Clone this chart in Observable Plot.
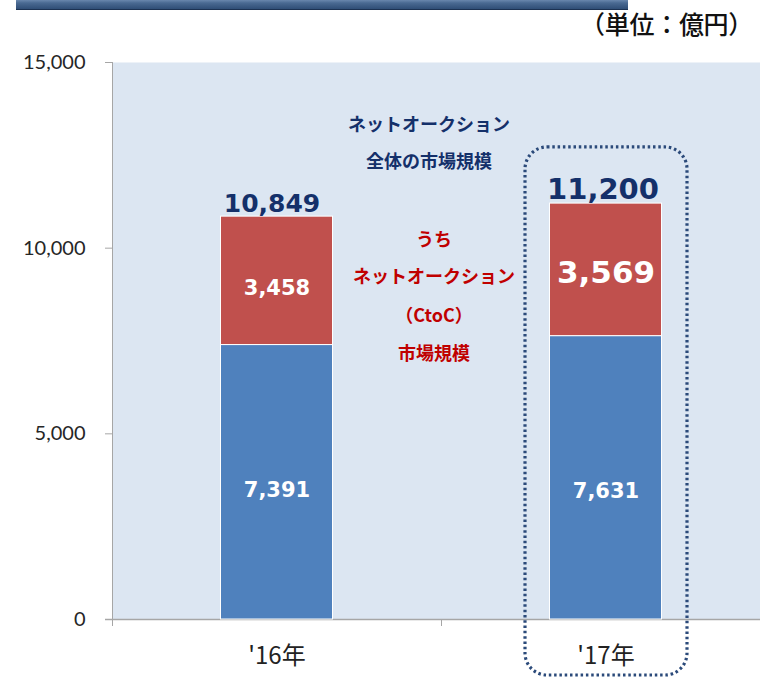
<!DOCTYPE html>
<html>
<head>
<meta charset="utf-8">
<script src="https://cdn.jsdelivr.net/npm/d3@7"></script>
<script src="https://cdn.jsdelivr.net/npm/@observablehq/plot@0.6"></script>
<style>
  html, body { margin: 0; padding: 0; background: #fff; }
  #wrap { position: relative; width: 760px; height: 678px; overflow: hidden; }
  #topbar { position: absolute; left: 16px; top: -2px; width: 612px; height: 11px;
    background: linear-gradient(to bottom, #7f9cc0 0%, #4a6a92 45%, #2f4e76 100%);
    border-bottom: 1px solid #1c3252; }
  #unit { position: absolute; right: 7px; top: 5px; font-family: "Noto Sans CJK JP", sans-serif;
    font-size: 25px; font-weight: 500; color: #111; letter-spacing: -0.3px; }
  #chart { position: absolute; left: 0; top: 0; }
</style>
</head>
<body>
<div id="wrap">
  <div id="chart"></div>
  <div id="topbar"></div>
  <div id="unit">（単位：億円）</div>
</div>
<script>
const years = ["'16年", "'17年"];
const otherValues = [7391, 7631];
const ctocValues = [3458, 3569];
const totalValues = [10849, 11200];
const seriesNames = ["その他", "CtoC"];
const yTicks = [0, 5000, 10000, 15000];
const noteTotal = ["ネットオークション", "全体の市場規模"];
const noteTotalY = [13305, 12308];
const noteCtoC = ["うち", "ネットオークション", "（CtoC）", "市場規模"];
const noteCtoCY = [10207, 9211, 8160, 7137];

const fmt = d3.format(",");
const stacked = [];
years.forEach((y, i) => {
  stacked.push({year: y, i, series: seriesNames[0], value: otherValues[i], lo: 0, hi: otherValues[i]});
  stacked.push({year: y, i, series: seriesNames[1], value: ctocValues[i], lo: otherValues[i], hi: otherValues[i] + ctocValues[i]});
});
const totals = years.map((y, i) => ({year: y, i, total: totalValues[i]}));
const highlight = [{year: years[1], y1: -1508, y2: 12712}];
const navy = "#14306a";
const jp = "'Noto Sans CJK JP', sans-serif";
const numFont = "'DejaVu Sans', sans-serif";
const mid = d => (d.lo + d.hi) / 2;
const segText = (filter, dy, size) => Plot.text(stacked, {filter, x: "year", y: mid, text: d => fmt(d.value),
  dy, fontSize: size, fontWeight: "bold", fill: "white", fontFamily: numFont});

const chart = Plot.plot({
  width: 760,
  height: 678,
  marginTop: 62,
  marginBottom: 59,
  marginLeft: 112,
  marginRight: -10,
  style: {background: "transparent", overflow: "visible"},
  x: {type: "band", domain: years, padding: 0},
  y: {type: "linear", domain: [0, 15000]},
  color: {domain: seriesNames, range: ["#4F81BD", "#C0504D"]},
  marks: [
    Plot.frame({fill: "#DCE6F2", stroke: null}),
    Plot.frame({anchor: "left", stroke: "#A6A6A6"}),
    Plot.axisY({ticks: yTicks, tickFormat: fmt, tickSize: 7, tickPadding: 20, fontSize: 20,
      fontFamily: "Lato, sans-serif", color: "#262626", stroke: "#A6A6A6"}),
    Plot.ruleY([0], {stroke: "#A6A6A6", strokeWidth: 1.5, insetLeft: -7}),
    Plot.ruleX(years, {x: d => d, y1: 0, y2: 0, dx: -164.5, stroke: "#A6A6A6", insetBottom: -7}),
    Plot.axisX({tickSize: 0, tickPadding: 27, fontSize: 24, fontFamily: jp, color: "#222", label: null}),
    Plot.barY(stacked, {x: "year", y1: "lo", y2: "hi", fill: "series", stroke: "white", strokeWidth: 1,
      insetLeft: 108.5, insetRight: 108.5}),
    segText(d => d.series === seriesNames[0] && d.i === 0, 8, 21),
    segText(d => d.series === seriesNames[0] && d.i === 1, 13, 21),
    segText(d => d.series === seriesNames[1] && d.i === 0, 7, 21),
    segText(d => d.series === seriesNames[1] && d.i === 1, 3, 31),
    Plot.text(totals, {filter: d => d.i === 0, x: "year", y: "total", text: d => fmt(d.total), dy: -13, dx: -5,
      fontSize: 25, fontWeight: "bold", fill: navy, fontFamily: numFont}),
    Plot.text(totals, {filter: d => d.i === 1, x: "year", y: "total", text: d => fmt(d.total), dy: -14, dx: -3,
      fontSize: 29, fontWeight: "bold", fill: navy, fontFamily: numFont}),
    Plot.text(noteTotal, {x: () => years[1], y: (d, i) => noteTotalY[i], text: d => d, dx: -177,
      fontSize: 18, fontWeight: "bold", fill: navy, fontFamily: jp}),
    Plot.text(noteCtoC, {x: () => years[1], y: (d, i) => noteCtoCY[i], text: d => d, dx: -172,
      fontSize: 18, fontWeight: "bold", fill: "#C00000", fontFamily: jp}),
    Plot.barY(highlight, {x: "year", y1: "y1", y2: "y2", fill: "none", stroke: "#2b4a7a", strokeWidth: 3.2,
      strokeDasharray: "2.5,2.8", rx: 22, insetLeft: 84, insetRight: 83, clip: false})
  ]
});
document.getElementById("chart").appendChild(chart);
</script>
</body>
</html>
